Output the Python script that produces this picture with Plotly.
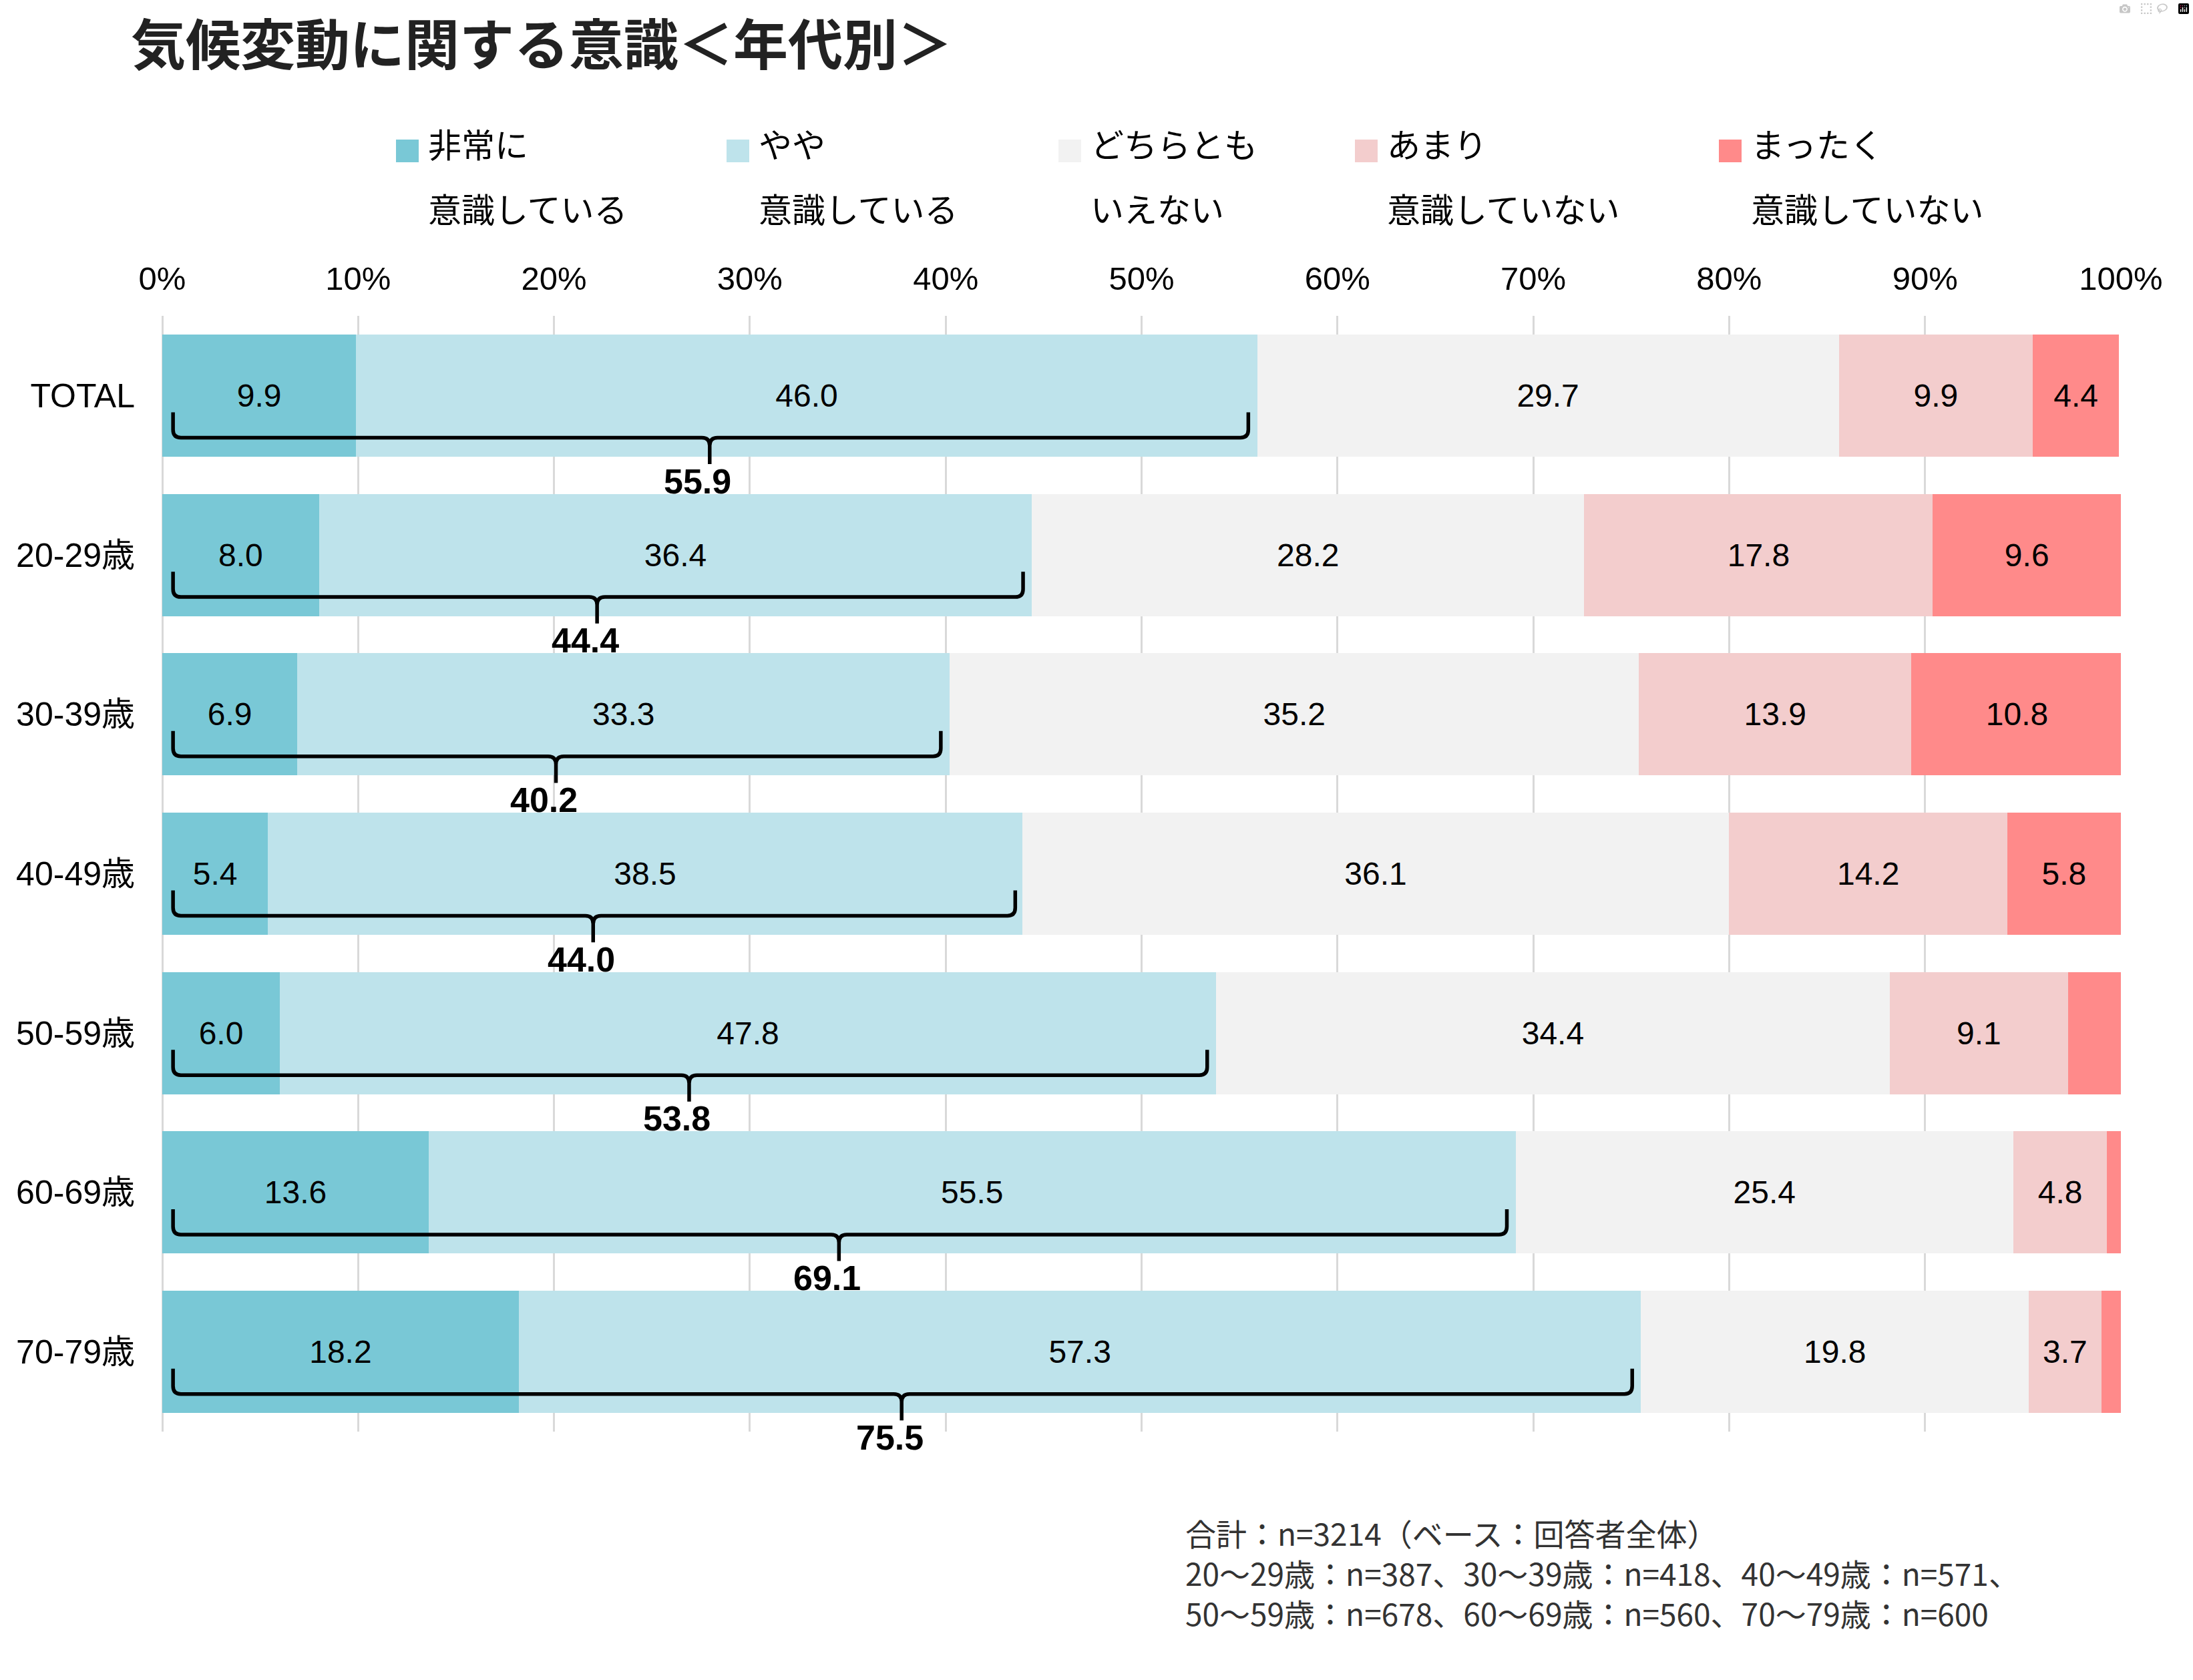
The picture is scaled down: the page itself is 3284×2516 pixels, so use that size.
import plotly.graph_objects as go

# ---------------- data ----------------
CATEGORIES = ["TOTAL", "20-29歳", "30-39歳", "40-49歳", "50-59歳", "60-69歳", "70-79歳"]

SERIES_LINE1 = ["非常に", "やや", "どちらとも", "あまり", "まったく"]
SERIES_LINE2 = ["意識している", "意識している", "いえない", "意識していない", "意識していない"]

VERY_AWARE = [9.9, 8.0, 6.9, 5.4, 6.0, 13.6, 18.2]
SOMEWHAT_AWARE = [46.0, 36.4, 33.3, 38.5, 47.8, 55.5, 57.3]
NEUTRAL = [29.7, 28.2, 35.2, 36.1, 34.4, 25.4, 19.8]
NOT_MUCH = [9.9, 17.8, 13.9, 14.2, 9.1, 4.8, 3.7]
NOT_AT_ALL = [4.4, 9.6, 10.8, 5.8, 2.7, 0.7, 1.0]

AWARE_TOTAL = [55.9, 44.4, 40.2, 44.0, 53.8, 69.1, 75.5]

X_TICKS = [0, 10, 20, 30, 40, 50, 60, 70, 80, 90, 100]
X_TICK_LABELS = ["0%", "10%", "20%", "30%", "40%", "50%", "60%", "70%", "80%", "90%", "100%"]

TITLE = "気候変動に関する意識＜年代別＞"
FOOTNOTE = [
    "合計：n=3214（ベース：回答者全体）",
    "20～29歳：n=387、30～39歳：n=418、40～49歳：n=571、",
    "50～59歳：n=678、60～69歳：n=560、70～79歳：n=600",
]

# ---------------- style ----------------
COLORS = ["#79C8D6", "#BEE3EB", "#F2F2F2", "#F3CDCD", "#FF8A8A"]
LATIN = "Liberation Sans, Arial, Noto Sans CJK JP, sans-serif"
CJK = "Noto Sans CJK JP, sans-serif"

W, H = 3284, 2516
ML, MR, MT, MB = 243, 108, 473, 372
PW, PH = W - ML - MR, H - MT - MB
Y_RANGE = [6.5, -0.5]


def px2x(px):
    return (px - ML) / PW


def py2y(py):
    return (H - MB - py) / PH


def row2paper(yv):
    return (Y_RANGE[0] - yv) / (Y_RANGE[0] - Y_RANGE[1])


fig = go.Figure()

series = [VERY_AWARE, SOMEWHAT_AWARE, NEUTRAL, NOT_MUCH, NOT_AT_ALL]
rows = list(range(len(CATEGORIES)))
for k, vals in enumerate(series):
    fig.add_trace(go.Bar(
        x=vals,
        y=rows,
        orientation="h",
        name=SERIES_LINE1[k] + SERIES_LINE2[k],
        marker=dict(color=COLORS[k], line=dict(width=0)),
        width=0.767,
        text=[f"{v:.1f}" if v >= 3 else "" for v in vals],
        textposition="inside",
        insidetextanchor="middle",
        textangle=0,
        textfont=dict(family=LATIN, size=48, color="black"),
        constraintext="none",
        hoverinfo="skip",
        showlegend=False,
    ))

# braces under the "aware" total
shapes = []
annotations = []
TOP, HL, TIP, LAB = 0.105, 0.264, 0.43, 0.537
C, D = 0.4, 0.05
for i, tot in enumerate(AWARE_TOTAL):
    L, R, m = 0.55, tot - 0.45, tot / 2
    yt, yh, yp = i + TOP, i + HL, i + TIP
    path = (
        f"M {L},{yt} L {L},{yh - D} Q {L},{yh} {L + C},{yh} "
        f"L {m - C},{yh} Q {m},{yh} {m},{yh + D} L {m},{yp} "
        f"M {m},{yh + D} Q {m},{yh} {m + C},{yh} "
        f"L {R - C},{yh} Q {R},{yh} {R},{yh - D} L {R},{yt}"
    )
    shapes.append(dict(type="path", xref="x", yref="y", path=path,
                       line=dict(color="black", width=5.5), layer="above"))
    annotations.append(dict(x=m, y=row2paper(i + LAB), xref="x", yref="paper",
                            xshift=-18,
                            text=f"<b>{tot:.1f}</b>", showarrow=False,
                            xanchor="center", yanchor="middle",
                            font=dict(family=LATIN, size=52, color="black")))

# legend (two-line labels)
LEG_MARK_X = [593, 1088, 1585, 2029, 2574]
for k in range(5):
    x0 = LEG_MARK_X[k]
    shapes.append(dict(type="rect", xref="paper", yref="paper",
                       x0=px2x(x0), x1=px2x(x0 + 34), y0=py2y(243), y1=py2y(209),
                       fillcolor=COLORS[k], line=dict(width=0)))
    annotations.append(dict(x=px2x(x0 + 46), y=py2y(214), xref="paper", yref="paper",
                            text=SERIES_LINE1[k], showarrow=False, xanchor="left",
                            yanchor="middle", font=dict(family=CJK, size=50, color="black")))
    annotations.append(dict(x=px2x(x0 + 46), y=py2y(311), xref="paper", yref="paper",
                            text=SERIES_LINE2[k], showarrow=False, xanchor="left",
                            yanchor="middle", font=dict(family=CJK, size=50, color="black")))

# title
annotations.append(dict(x=px2x(194), y=py2y(62), xref="paper", yref="paper",
                        text=f"<b>{TITLE}</b>", showarrow=False, xanchor="left",
                        yanchor="middle", font=dict(family=CJK, size=82, color="#222222")))

# footnote
annotations.append(dict(x=px2x(1773), y=py2y(2355), xref="paper", yref="paper",
                        text="<br>".join(FOOTNOTE), showarrow=False, xanchor="left",
                        yanchor="middle", align="left",
                        font=dict(family=CJK, size=46, color="#333333")))

fig.update_layout(
    width=W, height=H,
    margin=dict(l=ML, r=MR, t=MT, b=MB, pad=0),
    barmode="stack",
    bargap=0.233,
    paper_bgcolor="white",
    plot_bgcolor="white",
    font=dict(family=LATIN, color="black"),
    shapes=shapes,
    annotations=annotations,
    showlegend=False,
    xaxis=dict(
        range=[0, 100], side="top", tickvals=X_TICKS, ticktext=X_TICK_LABELS,
        showgrid=True, gridcolor="#d9d9d9", gridwidth=3,
        zeroline=True, zerolinecolor="#d9d9d9", zerolinewidth=3,
        showline=False, ticks="", ticklabelstandoff=28,
        tickfont=dict(family=LATIN, size=49, color="black"), fixedrange=True,
    ),
    yaxis=dict(
        range=Y_RANGE, tickvals=rows, ticktext=CATEGORIES,
        showgrid=False, zeroline=False, showline=False, ticks="",
        ticklabelstandoff=40,
        tickfont=dict(family=LATIN, size=50, color="black"), fixedrange=True,
    ),
)

fig.write_html("out.html", post_script="document.body.style.margin='0';")
